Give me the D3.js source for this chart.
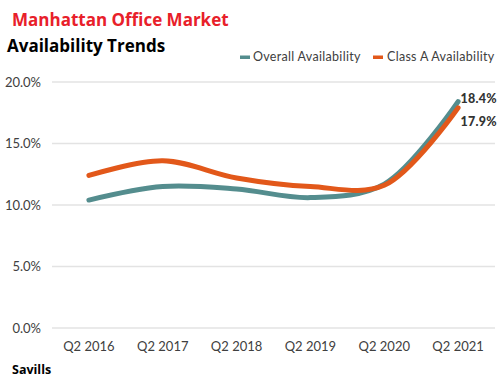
<!DOCTYPE html>
<html><head><meta charset="utf-8">
<script src="https://cdn.jsdelivr.net/npm/d3@7"></script>
<style>body{margin:0;background:#fff}svg{display:block}</style>
</head><body>
<svg id="c" width="502" height="384"></svg>
<script>
const categories = ["Q2 2016","Q2 2017","Q2 2018","Q2 2019","Q2 2020","Q2 2021"];
const overall = [10.4, 11.5, 11.3, 10.6, 11.7, 18.4];
const classA  = [12.4, 13.6, 12.2, 11.5, 11.6, 17.9];
const yTicks = [0, 5, 10, 15, 20];
const seriesNames = ["Overall Availability", "Class A Availability"];
const colors = ["#548d8e", "#e2581a"];

const svg = d3.select("#c");
const x = d3.scaleBand().domain(categories).range([52, 495]);
const y = d3.scaleLinear().domain([0, 20]).range([328, 82]);
const cx = d => x(d) + x.bandwidth()/2;

// gridlines
svg.append("g").selectAll("line").data(yTicks).join("line")
  .attr("x1", 52).attr("x2", 495)
  .attr("y1", d => y(d)).attr("y2", d => y(d))
  .attr("stroke", "#e3e3e3").attr("stroke-width", 1.5);

const axisFont = "Lato, 'Open Sans', sans-serif";
// y labels
svg.append("g").selectAll("text").data(yTicks).join("text")
  .attr("x", 41).attr("y", d => y(d) + 4.5)
  .attr("text-anchor", "end")
  .attr("font-family", axisFont).attr("font-size", 13).attr("fill", "#404040")
  .text(d => d.toFixed(1) + "%");

// x labels
svg.append("g").selectAll("text").data(categories).join("text")
  .attr("x", d => cx(d)).attr("y", 351)
  .attr("text-anchor", "middle")
  .attr("font-family", axisFont).attr("font-size", 13).attr("fill", "#404040")
  .text(d => d);

const line = d3.line().x((d,i) => cx(categories[i])).y(d => y(d)).curve(d3.curveCatmullRom.alpha(0.5));
[overall, classA].forEach((s, k) => {
  svg.append("path").attr("d", line(s)).attr("fill", "none")
    .attr("stroke", colors[k]).attr("stroke-width", 5).attr("stroke-linecap", "round");
});

// end labels
svg.append("text").attr("x", 497).attr("y", y(overall[5]) + 1).attr("text-anchor", "end")
  .attr("font-family", axisFont).attr("font-weight", "900").attr("font-size", 12.5).attr("fill", "#333")
  .attr("letter-spacing", 0.3)
  .text(overall[5].toFixed(1) + "%");
svg.append("text").attr("x", 497).attr("y", y(classA[5]) + 18).attr("text-anchor", "end")
  .attr("font-family", axisFont).attr("font-weight", "900").attr("font-size", 12.5).attr("fill", "#333")
  .attr("letter-spacing", 0.3)
  .text(classA[5].toFixed(1) + "%");

// legend
const lg = [{x: 240, tx: 253}, {x: 373, tx: 387}];
seriesNames.forEach((n, k) => {
  svg.append("rect").attr("x", lg[k].x).attr("y", 55.5).attr("width", 10).attr("height", 3.5).attr("fill", colors[k]);
  svg.append("text").attr("x", lg[k].tx).attr("y", 61).attr("font-family", axisFont)
    .attr("font-size", 12.5).attr("letter-spacing", 0.3).attr("fill", "#404040").text(n);
});

// titles
svg.append("text").attr("x", 12).attr("y", 26).attr("font-family", "'Open Sans', sans-serif")
  .attr("font-weight", "bold").attr("font-size", 17).attr("fill", "#e8202a").text("Manhattan Office Market");
svg.append("text").attr("x", 7).attr("y", 52).attr("font-family", "'Open Sans', sans-serif")
  .attr("font-weight", "bold").attr("font-size", 17).attr("fill", "#000").text("Availability Trends");
svg.append("text").attr("x", 12).attr("y", 374).attr("font-family", "'Open Sans', sans-serif")
  .attr("font-weight", "bold").attr("font-size", 12.5).attr("fill", "#000").text("Savills");
</script>
</body></html>
